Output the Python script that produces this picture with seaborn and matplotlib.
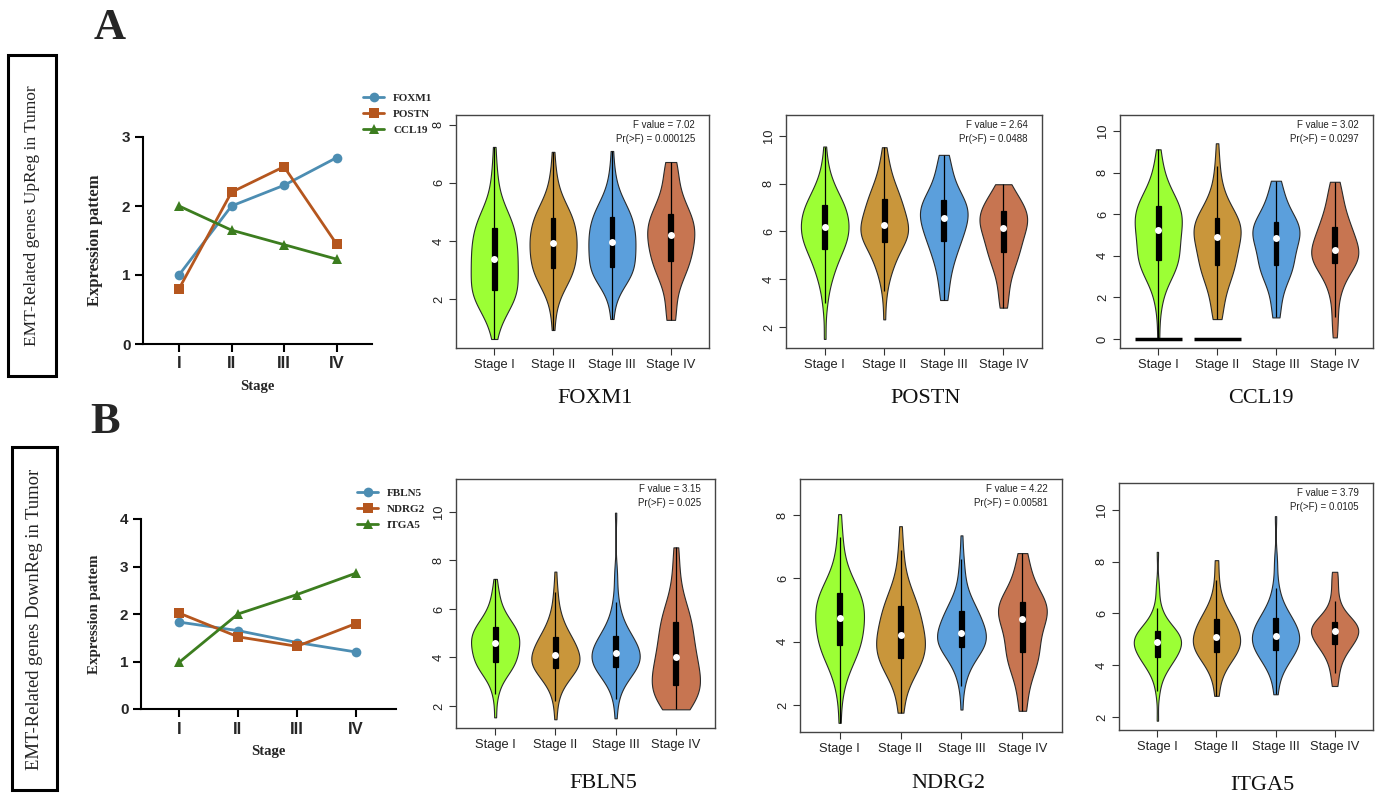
import numpy as np
import pandas as pd
import seaborn as sns
import matplotlib.pyplot as plt
from matplotlib.patches import Rectangle

sns.set_theme(style="ticks")
plt.rcParams['font.family'] = ['Liberation Sans', 'DejaVu Sans']

W, H = 1375, 799
SERIF = ['Liberation Serif', 'DejaVu Serif']
NARROW = ['Liberation Sans Narrow', 'Liberation Sans', 'DejaVu Sans']

# ---- data ----
stages_roman = ["I", "II", "III", "IV"]
stage_names = ["Stage I", "Stage II", "Stage III", "Stage IV"]

up_genes = ["FOXM1", "POSTN", "CCL19"]
foxm1_trend = [1.0, 2.0, 2.3, 2.7]
postn_trend = [0.8, 2.2, 2.57, 1.45]
ccl19_trend = [2.0, 1.65, 1.44, 1.23]

down_genes = ["FBLN5", "NDRG2", "ITGA5"]
fbln5_trend = [1.83, 1.65, 1.40, 1.20]
ndrg2_trend = [2.02, 1.52, 1.32, 1.80]
itga5_trend = [0.98, 2.0, 2.41, 2.86]

# expression as frequency tables per stage (I, II, III, IV): values and how many samples
foxm1_vals = [
    [0.62, 1.2, 1.6, 2.0, 2.31, 2.85, 3.38, 3.9, 4.45, 4.9, 5.5, 6.3, 7.24],
    [0.93, 1.7, 2.3, 2.7, 3.07, 3.5, 3.93, 4.35, 4.79, 5.2, 5.7, 6.3, 7.07],
    [1.31, 2.0, 2.5, 2.8, 3.1, 3.55, 3.97, 4.4, 4.83, 5.25, 5.7, 6.3, 7.1],
    [1.28, 1.9, 2.5, 2.9, 3.31, 3.75, 4.2, 4.55, 4.93, 5.4, 5.9, 6.3, 6.72],
]
foxm1_counts = [
    [1, 2, 4, 7, 9, 10, 10, 10, 9, 6, 3, 2, 1],
    [1, 2, 4, 7, 9, 10, 10, 10, 9, 6, 3, 2, 1],
    [1, 2, 4, 7, 9, 10, 10, 10, 9, 6, 3, 2, 1],
    [4, 3, 3, 7, 9, 10, 10, 10, 9, 6, 3, 3, 4],
]
postn_vals = [
    [1.5, 3.0, 3.9, 4.6, 5.26, 5.72, 6.18, 6.64, 7.1, 7.6, 8.1, 8.7, 9.56],
    [2.32, 3.5, 4.3, 4.9, 5.54, 5.9, 6.28, 6.8, 7.35, 7.9, 8.5, 9.0, 9.53],
    [3.13, 3.8, 4.4, 5.0, 5.6, 6.1, 6.58, 6.95, 7.3, 7.8, 8.3, 8.8, 9.21],
    [2.81, 3.4, 4.0, 4.6, 5.13, 5.65, 6.16, 6.5, 6.86, 7.15, 7.45, 7.7, 7.98],
]
postn_counts = [
    [1, 2, 4, 7, 9, 10, 10, 10, 9, 6, 3, 2, 1],
    [1, 2, 4, 7, 9, 10, 10, 10, 9, 6, 3, 2, 1],
    [3, 3, 4, 7, 9, 10, 10, 10, 9, 6, 4, 3, 3],
    [3, 3, 4, 7, 9, 10, 10, 10, 9, 6, 4, 3, 3],
]
ccl19_vals = [
    [0.0, 1.6, 2.6, 3.3, 3.8, 4.5, 5.24, 5.85, 6.41, 7.0, 7.7, 8.4, 9.12],
    [0.96, 1.6, 2.3, 3.0, 3.56, 4.25, 4.92, 5.4, 5.83, 6.5, 7.3, 8.3, 9.41],
    [1.04, 1.8, 2.5, 3.1, 3.56, 4.2, 4.84, 5.22, 5.61, 6.1, 6.6, 7.1, 7.61],
    [0.08, 1.05, 2.2, 3.0, 3.64, 3.96, 4.28, 4.85, 5.4, 6.0, 6.6, 7.1, 7.56],
]
ccl19_counts = [
    [1, 2, 4, 7, 9, 10, 10, 10, 9, 6, 3, 2, 1],
    [3, 3, 4, 7, 9, 10, 10, 10, 9, 6, 3, 2, 1],
    [3, 3, 4, 7, 9, 10, 10, 10, 9, 6, 4, 3, 3],
    [2, 3, 4, 7, 9, 10, 10, 10, 9, 6, 4, 3, 3],
]
ccl19_zero_stages = ["Stage I", "Stage II"]
fbln5_vals = [
    [1.53, 2.5, 3.1, 3.5, 3.83, 4.21, 4.59, 4.93, 5.27, 5.7, 6.2, 6.7, 7.24],
    [1.45, 2.2, 2.8, 3.2, 3.55, 3.82, 4.1, 4.48, 4.86, 5.4, 6.0, 6.7, 7.54],
    [1.49, 2.3, 2.9, 3.3, 3.62, 3.9, 4.17, 4.53, 4.9, 5.5, 6.3, 7.4, 9.97],
    [1.86, 2.1, 2.35, 2.6, 2.87, 3.45, 4.0, 4.72, 5.45, 6.1, 6.9, 7.7, 8.54],
]
fbln5_counts = [
    [1, 2, 4, 7, 9, 10, 10, 10, 9, 6, 3, 2, 1],
    [1, 2, 4, 7, 9, 10, 10, 10, 9, 6, 3, 2, 1],
    [1, 2, 4, 7, 9, 10, 10, 10, 9, 6, 3, 2, 1],
    [4, 4, 3, 7, 9, 10, 10, 10, 9, 6, 3, 2, 2],
]
ndrg2_vals = [
    [1.44, 2.4, 3.0, 3.5, 3.89, 4.32, 4.75, 5.15, 5.54, 6.0, 6.6, 7.3, 8.03],
    [1.76, 2.3, 2.8, 3.15, 3.5, 3.85, 4.21, 4.66, 5.12, 5.6, 6.2, 6.9, 7.65],
    [1.86, 2.6, 3.1, 3.5, 3.82, 4.05, 4.29, 4.63, 4.97, 5.4, 6.0, 6.6, 7.36],
    [1.82, 2.4, 2.9, 3.3, 3.68, 4.2, 4.73, 5.0, 5.26, 5.6, 6.0, 6.4, 6.8],
]
ndrg2_counts = [
    [1, 2, 4, 7, 9, 10, 10, 10, 9, 6, 3, 2, 1],
    [2, 2, 4, 7, 9, 10, 10, 10, 9, 6, 3, 2, 1],
    [1, 2, 4, 7, 9, 10, 10, 10, 9, 6, 3, 2, 1],
    [3, 3, 4, 7, 9, 10, 10, 10, 9, 6, 4, 3, 3],
]
itga5_vals = [
    [1.86, 3.0, 3.6, 4.0, 4.33, 4.6, 4.88, 5.1, 5.33, 5.7, 6.2, 7.0, 8.38],
    [2.82, 3.4, 3.8, 4.2, 4.52, 4.8, 5.08, 5.42, 5.77, 6.2, 6.7, 7.3, 8.06],
    [2.88, 3.5, 3.9, 4.25, 4.59, 4.87, 5.14, 5.47, 5.81, 6.3, 7.0, 8.0, 9.76],
    [3.2, 3.7, 4.1, 4.5, 4.82, 5.07, 5.32, 5.5, 5.68, 6.0, 6.5, 7.1, 7.61],
]
itga5_counts = [
    [1, 2, 4, 7, 9, 10, 10, 10, 9, 6, 3, 2, 1],
    [2, 2, 4, 7, 9, 10, 10, 10, 9, 6, 3, 2, 2],
    [2, 2, 4, 7, 9, 10, 10, 10, 9, 6, 3, 2, 1],
    [3, 3, 4, 7, 9, 10, 10, 10, 9, 6, 4, 3, 3],
]

f_values = {"FOXM1": ("7.02", "0.000125"), "POSTN": ("2.64", "0.0488"),
            "CCL19": ("3.02", "0.0297"), "FBLN5": ("3.15", "0.025"),
            "NDRG2": ("4.22", "0.00581"), "ITGA5": ("3.79", "0.0105")}

line_colors = ["#4C8DB2", "#B5561E", "#3C7D1F"]
violin_colors = ["#9CFF35", "#C9963B", "#5B9FDC", "#C77551"]


def px_axes(fig, x0, y0, x1, y1):
    return fig.add_axes([x0 / W, 1 - y1 / H, (x1 - x0) / W, (y1 - y0) / H])


def trend_panel(ax, genes, series, ymax, xlim, leg_xy, ylab_size):
    df = pd.DataFrame({
        "pos": list(range(len(stages_roman))) * len(genes),
        "value": [v for s in series for v in s],
        "gene": [g for g in genes for _ in stages_roman],
    })
    sns.lineplot(data=df, x="pos", y="value", hue="gene", style="gene",
                 markers=["o", "s", "^"], dashes=False, palette=line_colors,
                 linewidth=2.0, markersize=7, markeredgewidth=0, ax=ax)
    sns.move_legend(ax, "upper left", bbox_to_anchor=(leg_xy[0] / W, 1 - leg_xy[1] / H),
                    bbox_transform=ax.figure.transFigure, frameon=False, title=None,
                    borderpad=0, borderaxespad=0, handlelength=1.9, handletextpad=0.8,
                    labelspacing=0.55, prop=dict(family=SERIF, weight="bold", size=8))
    ax.set_xlim(*xlim)
    ax.set_ylim(0, ymax)
    ax.set_xticks(range(len(stages_roman)), stages_roman)
    ax.set_yticks(range(ymax + 1))
    for lab in ax.get_xticklabels():
        lab.set_fontfamily(NARROW)
        lab.set_fontweight("bold")
        lab.set_fontsize(12)
    for lab in ax.get_yticklabels():
        lab.set_fontweight("bold")
        lab.set_fontsize(11)
    ax.tick_params(direction="out", length=6, width=1.5, color="black", pad=3)
    sns.despine(ax=ax)
    for sp in ("left", "bottom"):
        ax.spines[sp].set_linewidth(1.5)
        ax.spines[sp].set_color("black")
    ax.set_xlabel("Stage", family=SERIF, weight="bold", fontsize=10.5, labelpad=6)
    ax.set_ylabel("Expression pattem", family=SERIF, weight="bold", fontsize=ylab_size,
                  labelpad=14)


def violin_panel(ax, gene, vals, counts, ylim, yticks):
    df = pd.DataFrame({
        "Stage": np.repeat(stage_names, [sum(c) for c in counts]),
        "value": np.concatenate([np.repeat(v, c) for v, c in zip(vals, counts)]),
    })
    sns.violinplot(data=df, x="Stage", y="value", hue="Stage", palette=violin_colors,
                   inner=None, cut=0, density_norm="width", width=0.8, bw_adjust=1.0,
                   linewidth=0.8, linecolor="#2a2a2a", saturation=1, legend=False, ax=ax)
    sns.boxplot(data=df, x="Stage", y="value", width=0.08, color="black", saturation=1,
                showfliers=False, showcaps=False, linewidth=0.9, linecolor="black",
                medianprops=dict(linewidth=0), ax=ax)
    sns.pointplot(data=df, x="Stage", y="value", estimator="median", errorbar=None,
                  linestyle="none", marker="o", markersize=5, markeredgewidth=0,
                  color="white", ax=ax)
    ax.set_xlim(-0.65, 3.65)
    ax.set_ylim(*ylim)
    ax.set_yticks(yticks)
    ax.set_yticklabels([str(t) for t in yticks], rotation=90, va="center")
    ax.tick_params(axis="both", direction="out", length=5, width=0.8, color="#333",
                   labelsize=9.3, labelcolor="#222", pad=3)
    ax.set_xlabel("")
    ax.set_ylabel("")
    for sp in ax.spines.values():
        sp.set_visible(True)
        sp.set_color("#444")
        sp.set_linewidth(1.0)
    fv, pv = f_values[gene]
    bb = ax.get_position()
    wpx, hpx = bb.width * W, bb.height * H
    ax.text(1 - 14 / wpx, 1 - 10 / hpx, f"F value = {fv}", transform=ax.transAxes,
            ha="right", va="center", fontsize=7, color="#222")
    ax.text(1 - 14 / wpx, 1 - 24 / hpx, f"Pr(>F) = {pv}", transform=ax.transAxes,
            ha="right", va="center", fontsize=7, color="#222")


fig = plt.figure(figsize=(W / 100, H / 100), dpi=100)

# side boxes and panel letters
fig.add_artist(Rectangle((8 / W, 1 - 376 / H), 48 / W, 321 / H, transform=fig.transFigure,
                         fill=False, lw=2.2, ec="black"))
fig.text(32 / W, 1 - 216 / H, "EMT-Related genes UpReg in Tumor", rotation=90,
         ha="center", va="center", family=SERIF, fontsize=12.5, color="#222")
fig.add_artist(Rectangle((12 / W, 1 - 790 / H), 45 / W, 343 / H, transform=fig.transFigure,
                         fill=False, lw=2.2, ec="black"))
fig.text(35 / W, 1 - 619 / H, "EMT-Related genes DownReg in Tumor", rotation=90,
         ha="center", va="center", family=SERIF, fontsize=13.4, color="#222")
fig.text(110 / W, 1 - 28 / H, "A", ha="center", va="center", family=SERIF,
         weight="bold", fontsize=32)
fig.text(105 / W, 1 - 422 / H, "B", ha="center", va="center", family=SERIF,
         weight="bold", fontsize=32)

# trend panels
ax_a = px_axes(fig, 143, 137, 372, 344)
trend_panel(ax_a, up_genes, [foxm1_trend, postn_trend, ccl19_trend], 3,
            (-0.686, 3.676), (363, 93), 12)
ax_b = px_axes(fig, 141, 519, 396, 709)
trend_panel(ax_b, down_genes, [fbln5_trend, ndrg2_trend, itga5_trend], 4,
            (-0.644, 3.678), (357, 488), 10.8)

# violin panels
panels = [
    ("FOXM1", foxm1_vals, foxm1_counts, (456, 115, 709, 348), (0.31, 8.34), [2, 4, 6, 8], (595, 398)),
    ("POSTN", postn_vals, postn_counts, (786, 115, 1042, 348), (1.12, 10.88), [2, 4, 6, 8, 10], (926, 398)),
    ("CCL19", ccl19_vals, ccl19_counts, (1120, 115, 1373, 348), (-0.43, 10.77), [0, 2, 4, 6, 8, 10], (1261, 398)),
    ("FBLN5", fbln5_vals, fbln5_counts, (456, 479, 715, 728), (1.09, 11.36), [2, 4, 6, 8, 10], (603, 783)),
    ("NDRG2", ndrg2_vals, ndrg2_counts, (800, 479, 1062, 732), (1.15, 9.14), [2, 4, 6, 8], (948, 783)),
    ("ITGA5", itga5_vals, itga5_counts, (1119, 483, 1373, 730), (1.5, 11.04), [2, 4, 6, 8, 10], (1262, 785)),
]
for gene, vals, counts, box, ylim, yticks, title_xy in panels:
    ax = px_axes(fig, *box)
    violin_panel(ax, gene, vals, counts, ylim, yticks)
    if gene == "CCL19":
        for st in ccl19_zero_stages:
            i = stage_names.index(st)
            ax.hlines(0, i - 0.4, i + 0.4, color="black", lw=2.5)
    fig.text(title_xy[0] / W, 1 - title_xy[1] / H, gene, ha="center", va="center",
             family=SERIF, fontsize=16, color="#111")

fig.savefig("out.png", dpi=100)
